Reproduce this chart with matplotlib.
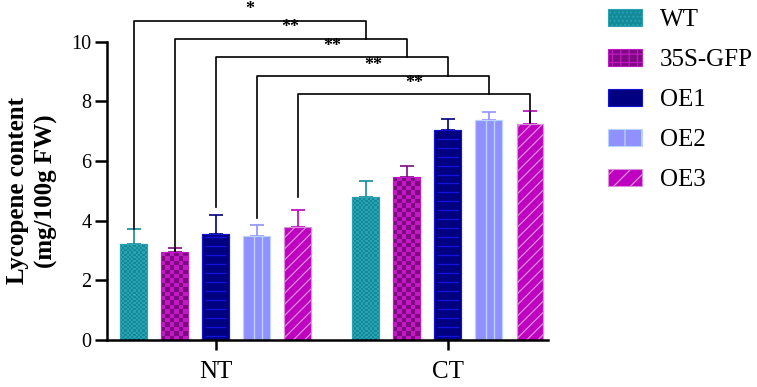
import numpy as np
import matplotlib
matplotlib.use("Agg")
import matplotlib.pyplot as plt
from matplotlib.patches import Patch
from matplotlib.colors import ListedColormap

plt.rcParams['font.family'] = ['Liberation Serif', 'DejaVu Serif']
plt.rcParams['hatch.linewidth'] = 0.9

groups = ["NT", "CT"]
lines = ["WT", "35S-GFP", "OE1", "OE2", "OE3"]
# lycopene content (mg/100g FW), one value per group
means = {
    "WT":      [3.23, 4.81],
    "35S-GFP": [2.94, 5.45],
    "OE1":     [3.57, 7.05],
    "OE2":     [3.48, 7.38],
    "OE3":     [3.78, 7.26],
}
sds = {
    "WT":      [0.48, 0.53],
    "35S-GFP": [0.14, 0.39],
    "OE1":     [0.62, 0.37],
    "OE2":     [0.38, 0.28],
    "OE3":     [0.57, 0.43],
}
# significance brackets NT line vs CT line
sig_marks = ["*", "**", "**", "**", "**"]
bracket_top = [10.71, 10.11, 9.49, 8.85, 8.24]
left_leg_end = [3.72, 2.72, 4.47, 4.09, 4.78]
right_leg_end = [10.11, 9.49, 8.85, 8.24, 7.28]

# face colour, pattern colour, pattern
styles = {
    "WT":      ("#138a9a", "#2aa2b2", "checker_small"),
    "35S-GFP": ("#7d0a80", "#c418c6", "checker_big"),
    "OE1":     ("#000080", "#1414d8", "hlines"),
    "OE2":     ("#9090ff", "#b8d4ff", "vlines"),
    "OE3":     ("#c000c0", "#d890d8", "///"),
}
legend_hatch = {"WT": "....", "35S-GFP": "++", "OE1": "", "OE2": "|", "OE3": "//"}

fig = plt.figure(figsize=(7.57, 3.87), dpi=100)
ax = fig.add_axes([0.1413, 0.1214, 0.724 - 0.1413, 0.892 - 0.1214])

step = 0.177
width = 0.116
x = np.arange(len(groups))
centers = {}

for i, name in enumerate(lines):
    face, pcol, pat = styles[name]
    xs = x + (i - 2) * step
    centers[name] = xs
    bars = ax.bar(xs, means[name], width, color=face, edgecolor=pcol, linewidth=0.8, zorder=2)
    if pat.startswith("checker"):
        n = 12 if pat == "checker_small" else 6
        sq = 0.07 if n == 12 else 0.148
        for b in bars:
            bx, bw, bh = b.get_x(), b.get_width(), b.get_height()
            rows = max(1, int(round(bh / sq)))
            arr = np.add.outer(np.arange(rows), np.arange(n)) % 2
            img = ax.imshow(arr, extent=(bx, bx + bw, 0, bh), origin="lower",
                            cmap=ListedColormap([face, pcol]),
                            interpolation="nearest", aspect="auto", zorder=2.1)
            img.set_clip_path(b)
    elif pat == "vlines":
        for b in bars:
            bx, bw, bh = b.get_x(), b.get_width(), b.get_height()
            ax.vlines([bx + 0.4 * bw, bx + 0.7 * bw], 0, bh, color=pcol, lw=1.0, zorder=2.2)
    elif pat == "hlines":
        for b in bars:
            bx, bw, bh = b.get_x(), b.get_width(), b.get_height()
            ys = np.arange(0.15, bh - 0.1, 0.3)
            ax.hlines(ys, bx + 0.1 * bw, bx + 0.9 * bw, color=pcol, lw=1.0, zorder=2.2)
    else:
        ax.bar(xs, means[name], width, color="none", edgecolor=pcol, linewidth=0,
               hatch=pat, zorder=2.2)
    ax.bar(xs, means[name], width, color="none", edgecolor=pcol, linewidth=0.8, zorder=2.3)
    err = np.array(sds[name])
    ax.errorbar(xs, means[name], yerr=[np.zeros_like(err), err], fmt="none",
                ecolor=face, elinewidth=1.2, capsize=4.8, capthick=1.2, zorder=1.5)

# brackets
for i, name in enumerate(lines):
    x0, x1 = centers[name]
    top = bracket_top[i]
    ax.plot([x0, x0, x1, x1], [left_leg_end[i], top, top, right_leg_end[i]],
            color="black", lw=1.2, clip_on=False, zorder=1.8)
    ax.text((x0 + x1) / 2, top + 0.08, sig_marks[i], ha="center", va="bottom",
            fontsize=13, fontweight="bold", clip_on=False)

ax.set_xlim(-0.4685, 1.432)
ax.set_ylim(0, 10)
ax.set_yticks([0, 2, 4, 6, 8, 10])
ax.set_xticks(x)
ax.set_xticklabels(groups, fontsize=18)
ax.tick_params(axis="y", labelsize=14.5, length=9, width=1.8, pad=2)
ax.tick_params(axis="x", length=7, width=1.8, pad=8)
for s in ["top", "right"]:
    ax.spines[s].set_visible(False)
for s in ["left", "bottom"]:
    ax.spines[s].set_linewidth(1.8)
ax.set_ylabel("Lycopene content\n(mg/100g FW)", fontsize=18, fontweight="bold",
              labelpad=10, linespacing=1.3)

handles = []
for name in lines:
    face, pcol, pat = styles[name]
    handles.append(Patch(facecolor=face, edgecolor=pcol, hatch=legend_hatch[name], linewidth=0.8))
fig.legend(handles, lines, loc="upper left", bbox_to_anchor=(608 / 757, 1 - 9 / 387),
           frameon=False, fontsize=18, handlelength=1.36, handleheight=0.64,
           labelspacing=0.72, handletextpad=0.72, borderpad=0, borderaxespad=0)

fig.savefig("out.png", dpi=100)
